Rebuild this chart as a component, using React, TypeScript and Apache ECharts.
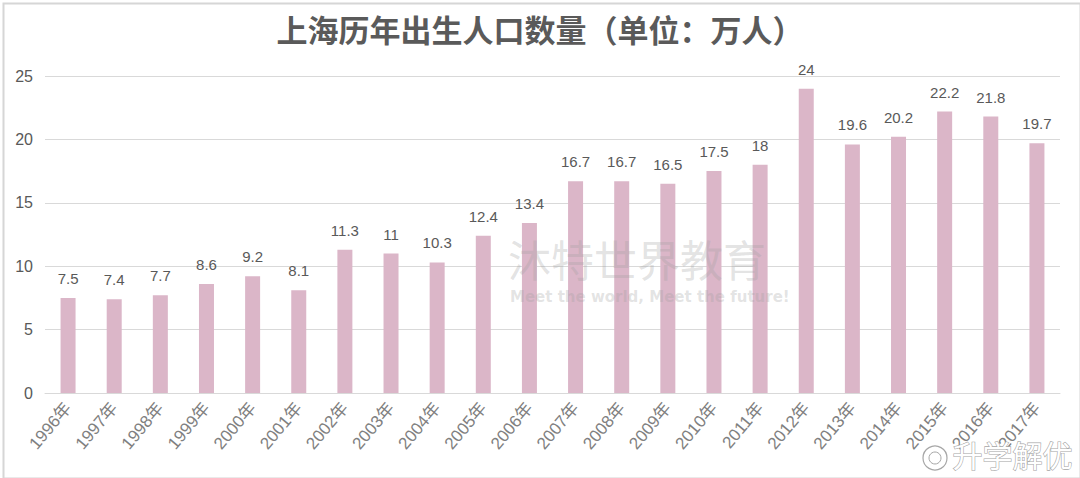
import React, { useEffect, useRef } from "react";
import * as echarts from "echarts";

const years = ["1996年","1997年","1998年","1999年","2000年","2001年","2002年","2003年","2004年","2005年","2006年","2007年","2008年","2009年","2010年","2011年","2012年","2013年","2014年","2015年","2016年","2017年"];
const births = [7.5, 7.4, 7.7, 8.6, 9.2, 8.1, 11.3, 11, 10.3, 12.4, 13.4, 16.7, 16.7, 16.5, 17.5, 18, 24, 19.6, 20.2, 22.2, 21.8, 19.7];
const yTicks = [0, 5, 10, 15, 20, 25];
const titleText = "上海历年出生人口数量（单位：万人）";

export default function App() {
  const ref = useRef<HTMLDivElement>(null);
  useEffect(() => {
    const chart = echarts.init(ref.current!, null, { renderer: "svg" });
    const font = "'Noto Sans CJK SC', 'Noto Sans', sans-serif";
    chart.setOption({
      animation: false,
      backgroundColor: "#ffffff",
      textStyle: { fontFamily: font },
      title: {
        text: titleText,
        left: "center",
        top: 8,
        textStyle: { fontSize: 31, fontWeight: "bold", color: "#5a5a5a", fontFamily: font },
      },
      grid: { left: 45, right: 20, top: 76, bottom: 85, containLabel: false },
      xAxis: {
        type: "category",
        data: years,
        axisLine: { show: true, lineStyle: { color: "#d9d9d9", width: 1 } },
        axisTick: { show: false },
        axisLabel: { rotate: 50, fontSize: 17, color: "#808080", margin: 12, interval: 0, fontFamily: "'Liberation Sans', Arial, 'Noto Sans CJK SC', sans-serif" },
      },
      yAxis: {
        type: "value",
        min: yTicks[0],
        max: yTicks[yTicks.length - 1],
        interval: 5,
        axisLine: { show: false },
        axisTick: { show: false },
        axisLabel: { fontSize: 16, color: "#595959", margin: 12, fontFamily: "'Liberation Sans', Arial, sans-serif" },
        splitLine: { lineStyle: { color: "#d9d9d9", width: 1 } },
      },
      series: [
        {
          type: "bar",
          data: births,
          barWidth: 15,
          itemStyle: { color: "#dbb6c8" },
          label: {
            show: true,
            position: "top",
            distance: 12,
            fontSize: 15,
            color: "#595959",
            fontFamily: "'Liberation Sans', Arial, sans-serif",
          },
        },
      ],
      graphic: [
        {
          type: "rect",
          left: 1,
          top: 1,
          shape: { width: 1077, height: 475 },
          style: { fill: "none", stroke: "#d6d6d6", lineWidth: 2 },
          silent: true,
        },
        {
          type: "text",
          left: 508,
          top: 236,
          z: 100,
          style: {
            text: "沐特世界教育",
            fill: "rgba(160,160,160,0.3)",
            font: `43px ${font}`,
            lineHeight: 43,
          },
          silent: true,
        },
        {
          type: "text",
          left: 510,
          top: 289,
          z: 100,
          style: {
            text: "Meet the world, Meet the future!",
            fill: "rgba(160,160,160,0.3)",
            font: `bold 15px 'DejaVu Sans', sans-serif`,
          },
          silent: true,
        },
        {
          type: "text",
          left: 952,
          top: 438,
          z: 100,
          style: {
            text: "升学解优",
            fill: "#ffffff",
            stroke: "#a6a6a6",
            lineWidth: 1.2,
            font: `30px ${font}`,
          },
          silent: true,
        },
        {
          type: "circle",
          shape: { cx: 935, cy: 458, r: 12 },
          z: 100,
          style: { fill: "#ffffff", stroke: "#a6a6a6", lineWidth: 1.2 },
          silent: true,
        },
        {
          type: "circle",
          shape: { cx: 935, cy: 458, r: 6 },
          z: 100,
          style: { fill: "none", stroke: "#a6a6a6", lineWidth: 1 },
          silent: true,
        },
      ],
    });
    return () => chart.dispose();
  }, []);
  return (
    <div
      ref={ref}
      style={{ position: "fixed", left: 0, top: 0, width: 1080, height: 478 }}
    />
  );
}
